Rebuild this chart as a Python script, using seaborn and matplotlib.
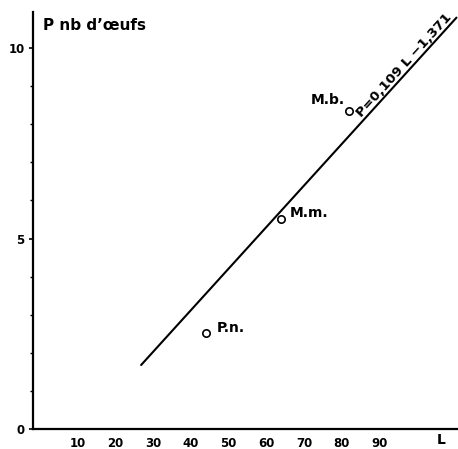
import numpy as np
import pandas as pd
import matplotlib
matplotlib.use("Agg")
import matplotlib.pyplot as plt
import seaborn as sns

# values
species = ["P.n.", "M.m.", "M.b."]
length_L = [44, 64, 82]
eggs_P = [2.52, 5.51, 8.35]

# regression line P = 0.109 L - 1.371 (drawn end points)
line_L = [26.8, 110.5]
line_P = [1.68, 10.8]

x_ticks = [10, 20, 30, 40, 50, 60, 70, 80, 90]
y_ticks = [0, 5, 10]
y_minor = [1, 2, 3, 4, 6, 7, 8, 9]

sns.set_style("ticks")
plt.rcParams["font.family"] = ["DejaVu Sans"]
plt.rcParams["font.weight"] = "bold"
plt.rcParams["text.color"] = "black"
plt.rcParams["xtick.color"] = "black"
plt.rcParams["ytick.color"] = "black"

df = pd.DataFrame({"espece": species, "L": length_L, "P": eggs_P})
line_df = pd.DataFrame({"L": line_L, "P": line_P})

fig = plt.figure(figsize=(4.58, 4.49), dpi=100)
ax = fig.add_axes([0.072, 0.0445, 0.928, 0.929])

sns.lineplot(data=line_df, x="L", y="P", ax=ax, color="black", linewidth=1.5)
sns.scatterplot(data=df, x="L", y="P", ax=ax, s=28, marker="o",
                facecolor="white", edgecolor="black", linewidth=1.2, zorder=3)

# labels next to points
ax.text(47.0, 2.65, "P.n.", fontsize=10, fontweight="bold", ha="left", va="center")
ax.text(66.3, 5.67, "M.m.", fontsize=10, fontweight="bold", ha="left", va="center")
ax.text(80.9, 8.63, "M.b.", fontsize=10, fontweight="bold", ha="right", va="center")

ax.text(85.3, 8.18, "P=0,109 L \u22121,371", fontsize=9.6, fontweight="bold",
        rotation=47.8, rotation_mode="anchor", ha="left", va="baseline")

ax.text(0.8, 10.58, "P nb d\u2019\u0153ufs", fontsize=11, fontweight="bold",
        ha="left", va="center")

ax.set_xlim(-1.9, 110.9)
ax.set_ylim(0, 10.95)

ax.set_xticks(x_ticks)
ax.set_xticklabels([str(t) for t in x_ticks], fontsize=8.5, fontweight="bold")
ax.tick_params(axis="x", length=0, pad=6)
ax.text(106.5, -0.29, "L", fontsize=10, fontweight="bold",
        ha="center", va="center")

ax.set_yticks(y_ticks)
ax.set_yticklabels([str(t) for t in y_ticks], fontsize=8.5, fontweight="bold")
ax.set_yticks(y_minor, minor=True)
ax.tick_params(axis="y", which="major", left=True, length=3, width=1.2, pad=3, direction="out")
ax.tick_params(axis="y", which="minor", left=True, length=2, width=1.0, direction="out")

ax.set_xlabel("")
ax.set_ylabel("")
for side in ["top", "right"]:
    ax.spines[side].set_visible(False)
for side in ["left", "bottom"]:
    ax.spines[side].set_linewidth(1.6)
    ax.spines[side].set_color("black")

fig.savefig("out.png", dpi=100)
